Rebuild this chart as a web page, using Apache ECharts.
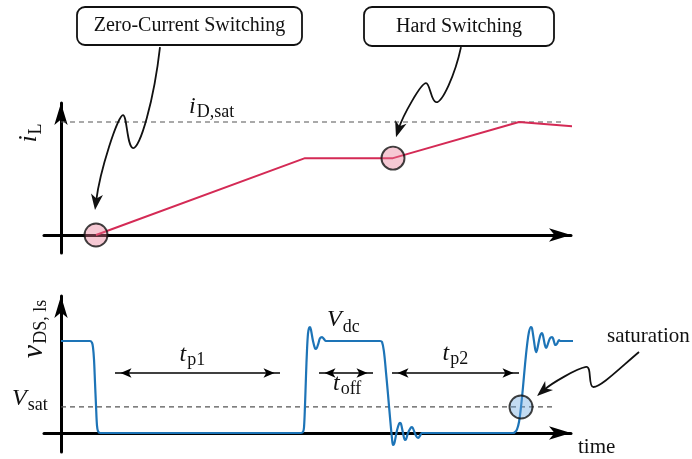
<!DOCTYPE html>
<html>
<head>
<meta charset="utf-8">
<script src="https://cdn.jsdelivr.net/npm/echarts@6/dist/echarts.min.js"></script>
<style>
  html, body { margin: 0; padding: 0; background: #fff; }
  #chart { width: 692px; height: 459px; }
</style>
</head>
<body>
<div id="chart"></div>
<script>
// ---- Inductor current (normalised to i_D,sat) over time (arbitrary units) ----
const currentTime  = [35, 244, 332, 458, 515];
const currentValue = [0, 0.68, 0.68, 1.0, 0.96];
const iDsat = 1.0;
const iDsatEnd = 501;

// ---- Drain-source voltage of the low-side switch (normalised to V_dc) ----
const voltageTime = [
  0, 29, 31, 32, 33, 34, 35, 36, 37, 39,
  240, 242, 243, 244, 245, 246, 247, 248, 249, 250, 252, 254, 255, 257, 259, 261, 263, 265,
  319, 321, 323, 325, 327, 329, 331, 332, 333, 334, 336, 338, 339, 340, 342, 344, 345, 347, 350, 351, 352, 355, 357, 359, 361,
  452, 454, 456, 458, 460, 462, 464, 466, 468, 470, 471, 473, 475, 476, 479, 481, 482, 484, 485, 486, 489, 491, 492, 494, 495, 496, 498, 499, 501, 517
];
const voltageValue = [
  1, 1, 0.98, 0.93, 0.8, 0.55, 0.3, 0.08, 0.02, 0,
  0, 0.01, 0.06, 0.3, 0.62, 0.9, 1.08, 1.14, 1.15, 1.12, 1.0, 0.92, 0.913, 0.96, 1.03, 1.043, 1.02, 1.0,
  1.0, 0.99, 0.88, 0.66, 0.42, 0.17, -0.06, -0.13, -0.12, -0.08, 0.03, 0.10, 0.109, 0.10, 0.0, -0.076, -0.07, 0.0, 0.06, 0.065, 0.05, -0.03, -0.054, -0.03, 0,
  0, 0.01, 0.04, 0.12, 0.283, 0.5, 0.74, 0.95, 1.1, 1.152, 1.14, 1.0, 0.88, 0.9, 1.05, 1.087, 1.06, 0.95, 0.924, 0.94, 1.03, 1.043, 1.03, 0.96, 0.957, 0.97, 1.01, 1.0, 1.0, 1.0
];
const vSat = 0.283;
const vSatEnd = 493;

// ---- Highlighted switching events ----
const zcsPoint  = [35, 0];
const hardPoint = [332, 0.68];
const satPoint  = [460, 0.283];

// ---- Interval markers (start, end) ----
const tp1  = [54, 219];
const toff = [258, 312];
const tp2  = [331, 458];
const intervalLevel = 0.652;

const SERIF = '"Liberation Serif", "Times New Roman", serif';
const RED = '#d42a55';
const BLUE = '#1d74b7';

const zip = (a, b) => a.map((v, i) => [v, b[i]]);

const axisArrow = { symbol: ['none', 'arrow'], symbolSize: [10, 22] };

function axisX(grid) {
  return {
    type: 'value', gridIndex: grid, min: -17, max: 510,
    axisLine: Object.assign({ onZero: true, lineStyle: { color: '#000', width: 3 } }, axisArrow),
    axisTick: { show: false }, axisLabel: { show: false }, splitLine: { show: false }
  };
}
function axisY(grid, min, max) {
  return {
    type: 'value', gridIndex: grid, min: min, max: max,
    axisLine: Object.assign({ onZero: true, lineStyle: { color: '#000', width: 3 } }, axisArrow),
    axisTick: { show: false }, axisLabel: { show: false }, splitLine: { show: false }
  };
}

const dashed = { color: '#555', width: 1.2, type: [5, 4] };
const markerBorder = { borderColor: '#111', borderWidth: 1.9 };

const chart = echarts.init(document.getElementById('chart'));
chart.setOption({
  animation: false,
  grid: [
    { left: 44, top: 103, width: 527, height: 150 },
    { left: 44, top: 296, width: 527, height: 156 }
  ],
  xAxis: [axisX(0), axisX(1)],
  yAxis: [axisY(0, -0.159, 1.168), axisY(1, -0.2065, 1.489)],
  series: [
    { type: 'line', xAxisIndex: 0, yAxisIndex: 0, data: [[0, iDsat], [iDsatEnd, iDsat]],
      symbol: 'none', lineStyle: dashed, silent: true, z: 2 },
    { type: 'line', xAxisIndex: 0, yAxisIndex: 0, data: zip(currentTime, currentValue),
      symbol: 'none', clip: false, lineStyle: { color: RED, width: 2 }, z: 3 },
    { type: 'scatter', xAxisIndex: 0, yAxisIndex: 0, data: [zcsPoint, hardPoint],
      symbolSize: 23, itemStyle: Object.assign({ color: 'rgba(232,120,148,0.5)' }, markerBorder), z: 5 },

    { type: 'line', xAxisIndex: 1, yAxisIndex: 1, data: [[0, vSat], [vSatEnd, vSat]],
      symbol: 'none', lineStyle: dashed, silent: true, z: 2,
      markLine: {
        silent: true, symbol: ['arrow', 'arrow'], symbolSize: [7, 11],
        symbolOffset: [[0, 5.5], [0, 5.5]],
        lineStyle: { color: '#000', width: 1.5, type: 'solid' },
        label: { show: false },
        data: [tp1, toff, tp2].map(r => [
          { coord: [r[0], intervalLevel] }, { coord: [r[1], intervalLevel] }
        ])
      } },
    { type: 'line', xAxisIndex: 1, yAxisIndex: 1, data: zip(voltageTime, voltageValue),
      symbol: 'none', clip: false, smooth: 0.35, lineStyle: { color: BLUE, width: 2.2 }, z: 3 },
    { type: 'scatter', xAxisIndex: 1, yAxisIndex: 1, data: [satPoint],
      symbolSize: 23, itemStyle: Object.assign({ color: 'rgba(105,165,222,0.5)' }, markerBorder), z: 5 }
  ]
});

// ---------- annotations ----------
const measureCtx = document.createElement('canvas').getContext('2d');
function textWidth(str, font) { measureCtx.font = font; return measureCtx.measureText(str).width; }
function fontOf(size, italic) { return (italic ? 'italic ' : '') + size + 'px ' + SERIF; }

function text(x, baseline, str, size, italic, align) {
  return {
    type: 'text', x: x, y: baseline - 0.34 * size, z: 20,
    style: { text: str, font: fontOf(size, italic), fill: '#111',
      align: align || 'left', textAlign: align || 'left',
      verticalAlign: 'middle', textVerticalAlign: 'middle' }
  };
}

// symbol with subscript, left-aligned at x with the main glyph on the given baseline
function subscripted(x, baseline, main, sub, mainSize, subSize, drop) {
  const w = textWidth(main, fontOf(mainSize, true));
  return [
    text(x, baseline, main, mainSize, true),
    text(x + w + 1, baseline + drop, sub, subSize, false)
  ];
}

// vertical (bottom-to-top) axis title centred on cy, baseline at screen x = bx
function verticalTitle(bx, cy, main, sub, mainSize, subSize, drop) {
  const w = textWidth(main, fontOf(mainSize, true)) + 1 + textWidth(sub, fontOf(subSize, false));
  return {
    type: 'group', x: bx, y: cy, rotation: Math.PI / 2,
    children: subscripted(-w / 2, 0, main, sub, mainSize, subSize, drop)
  };
}

function callout(x, y, w, h, label) {
  return [
    { type: 'rect', z: 15, shape: { x: x, y: y, width: w, height: h, r: 8 },
      style: { fill: '#fff', stroke: '#111', lineWidth: 1.8 } },
    { type: 'text', z: 16, x: x + w / 2, y: y + h / 2,
      style: { text: label, font: fontOf(20, false), fill: '#111',
        align: 'center', textAlign: 'center', verticalAlign: 'middle', textVerticalAlign: 'middle' } }
  ];
}

// wavy pointer: cubic segments given relative to the arrow tip
function wavyArrow(tip, segs) {
  const abs = p => [tip[0] + p[0], tip[1] + p[1]];
  const els = [];
  segs.forEach((s, i) => {
    const p0 = abs(s[0]), p1 = abs(s[1]), p2 = abs(s[2]);
    let p3 = abs(s[3]);
    if (i === segs.length - 1) {
      const dx = p3[0] - p2[0], dy = p3[1] - p2[1], len = Math.hypot(dx, dy);
      p3 = [p3[0] - dx / len * 9, p3[1] - dy / len * 9];
    }
    els.push({ type: 'bezierCurve', z: 12,
      shape: { x1: p0[0], y1: p0[1], cpx1: p1[0], cpy1: p1[1], cpx2: p2[0], cpy2: p2[1], x2: p3[0], y2: p3[1] },
      style: { stroke: '#111', lineWidth: 1.8, fill: 'none' } });
  });
  const last = segs[segs.length - 1];
  const c = abs(last[2]);
  let dx = tip[0] - c[0], dy = tip[1] - c[1];
  const len = Math.hypot(dx, dy); dx /= len; dy /= len;
  const L = 16, W = 6;
  const nx = -dy, ny = dx;
  els.push({ type: 'polygon', z: 13,
    shape: { points: [
      tip,
      [tip[0] - dx * L + nx * W, tip[1] - dy * L + ny * W],
      [tip[0] - dx * L * 0.72, tip[1] - dy * L * 0.72],
      [tip[0] - dx * L - nx * W, tip[1] - dy * L - ny * W]
    ] },
    style: { fill: '#111', stroke: null } });
  return els;
}

const zp = chart.convertToPixel({ gridIndex: 0 }, zcsPoint);
const hp = chart.convertToPixel({ gridIndex: 0 }, hardPoint);
const sp = chart.convertToPixel({ gridIndex: 1 }, satPoint);
const dsatPx = chart.convertToPixel({ gridIndex: 0 }, [0, iDsat]);
const vsatPx = chart.convertToPixel({ gridIndex: 1 }, [0, vSat]);
const vdcPx  = chart.convertToPixel({ gridIndex: 1 }, [0, 1]);
const lvlPx  = chart.convertToPixel({ gridIndex: 1 }, [0, intervalLevel]);
const t1Px   = chart.convertToPixel({ gridIndex: 1 }, [(tp1[0] + tp1[1]) / 2, intervalLevel]);
const toPx   = chart.convertToPixel({ gridIndex: 1 }, [(toff[0] + toff[1]) / 2, intervalLevel]);
const t2Px   = chart.convertToPixel({ gridIndex: 1 }, [(tp2[0] + tp2[1]) / 2, intervalLevel]);
const endPx  = chart.convertToPixel({ gridIndex: 1 }, [510, 0]);

const graphic = [].concat(
  callout(77, 7, 225, 38, 'Zero-Current Switching'),
  callout(364, 7, 190, 39, 'Hard Switching'),
  wavyArrow([zp[0] - 1, zp[1] - 25], [
    [[65, -163], [59, -110], [45, -61], [38, -62]],
    [[38, -62], [32, -63], [32, -95], [28, -95]],
    [[28, -95], [23, -95], [5, -40], [0, 0]]
  ]),
  wavyArrow([hp[0] + 3, hp[1] - 21], [
    [[65, -90], [59, -62], [46, -34], [40, -35]],
    [[40, -35], [35, -36], [34, -54], [30, -54]],
    [[30, -54], [25, -54], [7, -22], [0, 0]]
  ]),
  wavyArrow([sp[0] + 16, sp[1] - 11], [
    [[102, -44], [83, -28], [63, -8], [56, -9]],
    [[56, -9], [51, -10], [55, -30], [49, -29]],
    [[49, -29], [39, -27], [15, -13], [0, 0]]
  ]),
  subscripted(189, dsatPx[1] - 7, 'i', 'D,sat', 24, 18, 3),
  [verticalTitle(38, 133, 'i', 'L', 26, 18, 4)],
  [verticalTitle(44, 329, 'v', 'DS, ls', 30, 18, 3)],
  subscripted(12, vsatPx[1], 'V', 'sat', 24, 18, 4),
  subscripted(327, vdcPx[1] - 13, 'V', 'dc', 24, 18, 5),
  subscripted(t1Px[0] - 18, lvlPx[1] - 10, 't', 'p1', 24, 18, 3),
  subscripted(toPx[0] - 13, lvlPx[1] + 19, 't', 'off', 24, 18, 3),
  subscripted(t2Px[0] - 13, lvlPx[1] - 11, 't', 'p2', 24, 18, 3),
  [text(endPx[0] + 7, endPx[1] + 22, 'time', 21, false)],
  [text(607, 344, 'saturation', 21, false)]
);

chart.setOption({ graphic: graphic });
</script>
</body>
</html>
